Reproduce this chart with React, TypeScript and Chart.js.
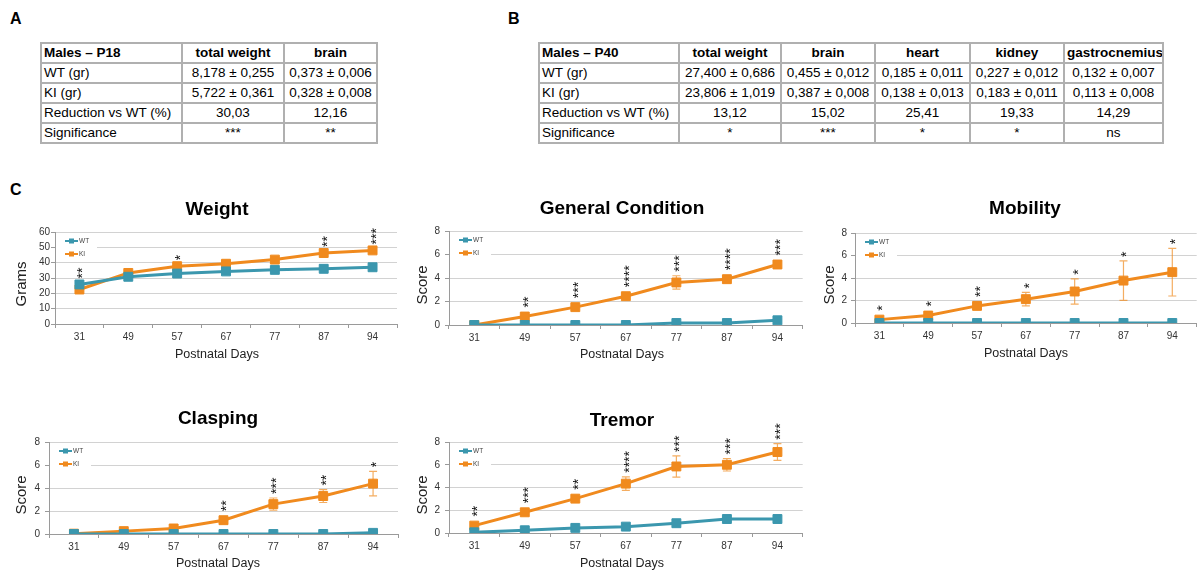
import React, { useEffect, useRef } from 'react';
import { Chart, registerables } from 'chart.js';
Chart.register(...registerables);

// ---------- DATA ----------
const days = ['31', '49', '57', '67', '77', '87', '94'];

const weightWT = [25.8, 30.8, 32.9, 34.3, 35.3, 36, 37];
const weightKI = [22.5, 33.3, 37.7, 39.3, 42, 46.3, 48];
const weightKIErr = [0.8, 0.8, 1, 1, 1.5, 1.2, 1];
const weightStars = ['**', '', '*', '', '', '**', '***'];

const gcWT = [0, 0, 0, 0, 0.17, 0.17, 0.4];
const gcKI = [0, 0.72, 1.52, 2.45, 3.62, 3.9, 5.15];
const gcKIErr = [0, 0.1, 0.15, 0.2, 0.57, 0.2, 0.25];
const gcStars = ['', '**', '***', '****', '***', '****', '***'];

const mobWT = [0, 0, 0, 0, 0, 0, 0];
const mobKI = [0.3, 0.66, 1.52, 2.12, 2.8, 3.77, 4.52];
const mobKIErr = [0.1, 0.15, 0.3, 0.6, 1.13, 1.75, 2.12];
const mobStars = ['*', '*', '**', '*', '*', '*', '*'];

const claWT = [0, 0, 0, 0, 0, 0, 0.1];
const claKI = [0.03, 0.25, 0.48, 1.2, 2.6, 3.3, 4.38];
const claKIErr = [0, 0.05, 0.1, 0.22, 0.53, 0.56, 1.07];
const claStars = ['', '', '', '**', '***', '**', '*'];

const treWT = [0.06, 0.24, 0.45, 0.56, 0.86, 1.23, 1.23];
const treKI = [0.65, 1.82, 3.02, 4.34, 5.85, 6.0, 7.12];
const treKIErr = [0.15, 0.2, 0.3, 0.6, 0.93, 0.55, 0.73];
const treStars = ['**', '***', '**', '****', '***', '***', '***'];

const tableAHeader = ['Males – P18', 'total weight', 'brain'];
const tableARows = [
  ['WT (gr)', '8,178 ± 0,255', '0,373 ± 0,006'],
  ['KI (gr)', '5,722 ± 0,361', '0,328 ± 0,008'],
  ['Reduction vs WT (%)', '30,03', '12,16'],
  ['Significance', '***', '**'],
];
const tableBHeader = ['Males – P40', 'total weight', 'brain', 'heart', 'kidney', 'gastrocnemius'];
const tableBRows = [
  ['WT (gr)', '27,400 ± 0,686', '0,455 ± 0,012', '0,185 ± 0,011', '0,227 ± 0,012', '0,132 ± 0,007'],
  ['KI (gr)', '23,806 ± 1,019', '0,387 ± 0,008', '0,138 ± 0,013', '0,183 ± 0,011', '0,113 ± 0,008'],
  ['Reduction vs WT (%)', '13,12', '15,02', '25,41', '19,33', '14,29'],
  ['Significance', '*', '***', '*', '*', 'ns'],
];

// ---------- STYLE ----------
const FONT = '"Liberation Sans", Arial, sans-serif';
const WT_COLOR = '#3B97AE';
const KI_COLOR = '#F08A1E';
const ERR_COLOR = 'rgba(240,138,30,0.7)';

type Panel = {
  title: string;
  yTitle: string;
  wt: number[];
  ki: number[];
  kiErr: number[];
  stars: string[];
  yMax: number;
  yStep: number;
  box: { x: number; y: number; w: number; h: number };
  area: { l: number; t: number; r: number; b: number };
  titlePos: [number, number];
  yTitlePos: [number, number];
  xTitlePos: [number, number];
  yTickPad: number;
  starGap: number;
};

const panels: Panel[] = [
  {
    title: 'Weight', yTitle: 'Grams', wt: weightWT, ki: weightKI, kiErr: weightKIErr, stars: weightStars,
    yMax: 60, yStep: 10,
    box: { x: 0, y: 185, w: 410, h: 190 }, area: { l: 55, t: 232, r: 397, b: 324 },
    titlePos: [217, 210], yTitlePos: [22, 284], xTitlePos: [217, 355], yTickPad: 1, starGap: 6,
  },
  {
    title: 'General Condition', yTitle: 'Score', wt: gcWT, ki: gcKI, kiErr: gcKIErr, stars: gcStars,
    yMax: 8, yStep: 2,
    box: { x: 400, y: 185, w: 410, h: 190 }, area: { l: 449, t: 231, r: 804, b: 325 },
    titlePos: [622, 209], yTitlePos: [423, 285], xTitlePos: [622, 355], yTickPad: 5, starGap: 9,
  },
  {
    title: 'Mobility', yTitle: 'Score', wt: mobWT, ki: mobKI, kiErr: mobKIErr, stars: mobStars,
    yMax: 8, yStep: 2,
    box: { x: 805, y: 185, w: 399, h: 190 }, area: { l: 855, t: 233, r: 1203, b: 323 },
    titlePos: [1025, 209], yTitlePos: [830, 285], xTitlePos: [1026, 354], yTickPad: 4, starGap: 9,
  },
  {
    title: 'Clasping', yTitle: 'Score', wt: claWT, ki: claKI, kiErr: claKIErr, stars: claStars,
    yMax: 8, yStep: 2,
    box: { x: 0, y: 395, w: 410, h: 177 }, area: { l: 49, t: 442, r: 398, b: 534 },
    titlePos: [218, 419], yTitlePos: [22, 495], xTitlePos: [218, 564], yTickPad: 5, starGap: 9,
  },
  {
    title: 'Tremor', yTitle: 'Score', wt: treWT, ki: treKI, kiErr: treKIErr, stars: treStars,
    yMax: 8, yStep: 2,
    box: { x: 400, y: 395, w: 410, h: 177 }, area: { l: 449, t: 442, r: 803, b: 533 },
    titlePos: [622, 421], yTitlePos: [423, 495], xTitlePos: [622, 564], yTickPad: 5, starGap: 9,
  },
];

function ChartPanel({ p }: { p: Panel }) {
  const ref = useRef<HTMLCanvasElement>(null);
  useEffect(() => {
    const ox = p.box.x;
    const oy = p.box.y;
    const L = p.area.l - ox;
    const T = p.area.t - oy;
    const R = p.area.r - ox;
    const B = p.area.b - oy;

    const extras = {
      id: 'extras',
      beforeDatasetsDraw(chart: any) {
        const ctx = chart.ctx;
        const xs = chart.scales.x;
        const ys = chart.scales.y;
        ctx.save();
        ctx.strokeStyle = ERR_COLOR;
        ctx.lineWidth = 1.2;
        p.ki.forEach((v, i) => {
          const e = p.kiErr[i];
          if (!e) return;
          const x = xs.getPixelForValue(i);
          const y1 = ys.getPixelForValue(v + e);
          const y2 = ys.getPixelForValue(Math.max(0, v - e));
          ctx.beginPath();
          ctx.moveTo(x, y1);
          ctx.lineTo(x, y2);
          ctx.moveTo(x - 4, y1);
          ctx.lineTo(x + 4, y1);
          ctx.moveTo(x - 4, y2);
          ctx.lineTo(x + 4, y2);
          ctx.stroke();
        });
        ctx.restore();
      },
      afterDraw(chart: any) {
        const ctx = chart.ctx;
        const xs = chart.scales.x;
        const ys = chart.scales.y;
        const ca = chart.chartArea;
        ctx.save();
        // legend
        ctx.fillStyle = '#ffffff';
        ctx.fillRect(ca.left + 1, ca.top + 3, 41, 25);
        const items: [string, string, number][] = [
          ['WT', WT_COLOR, ca.top + 9],
          ['KI', KI_COLOR, ca.top + 22],
        ];
        items.forEach(([lab, col, y]) => {
          ctx.strokeStyle = col;
          ctx.lineWidth = 2;
          ctx.beginPath();
          ctx.moveTo(ca.left + 10, y);
          ctx.lineTo(ca.left + 23, y);
          ctx.stroke();
          ctx.fillStyle = col;
          ctx.fillRect(ca.left + 14, y - 2.5, 5, 5);
          ctx.fillStyle = '#444';
          ctx.font = `6.5px ${FONT}`;
          ctx.textAlign = 'left';
          ctx.textBaseline = 'middle';
          ctx.fillText(lab, ca.left + 24, y + 0.5);
        });
        // significance stars
        const fs = 14;
        ctx.fillStyle = '#111';
        ctx.font = `${fs}px ${FONT}`;
        ctx.textAlign = 'left';
        ctx.textBaseline = 'alphabetic';
        p.stars.forEach((s, i) => {
          if (!s) return;
          const x = xs.getPixelForValue(i);
          const yPoint = Math.min(ys.getPixelForValue(p.ki[i]), ys.getPixelForValue(p.wt[i]));
          const yErr = ys.getPixelForValue(p.ki[i] + (p.kiErr[i] || 0));
          const bottom = Math.min(yPoint - p.starGap, yErr - 4);
          ctx.save();
          ctx.translate(x, bottom);
          ctx.rotate(-Math.PI / 2);
          ctx.fillText(s, 0, fs * 0.57);
          ctx.restore();
        });
        // titles
        ctx.fillStyle = '#000';
        ctx.font = `bold 19px ${FONT}`;
        ctx.textAlign = 'center';
        ctx.textBaseline = 'middle';
        ctx.fillText(p.title, p.titlePos[0] - ox, p.titlePos[1] - oy);
        ctx.fillStyle = '#222';
        ctx.font = `12.5px ${FONT}`;
        ctx.fillText('Postnatal Days', p.xTitlePos[0] - ox, p.xTitlePos[1] - oy);
        ctx.save();
        ctx.translate(p.yTitlePos[0] - ox, p.yTitlePos[1] - oy);
        ctx.rotate(-Math.PI / 2);
        ctx.font = `15px ${FONT}`;
        ctx.fillText(p.yTitle, 0, 0);
        ctx.restore();
        ctx.restore();
      },
    };

    const ds = (label: string, data: number[], color: string) => ({
      label,
      data,
      borderColor: color,
      backgroundColor: color,
      borderWidth: 3,
      pointStyle: 'rect' as const,
      pointRadius: 6.3,
      pointBorderWidth: 1,
      pointBackgroundColor: color,
      pointBorderColor: color,
      tension: 0,
    });

    const chart = new Chart(ref.current!, {
      type: 'line',
      data: {
        labels: days,
        datasets: [ds('WT', p.wt, WT_COLOR), ds('KI', p.ki, KI_COLOR)],
      },
      options: {
        responsive: false,
        animation: false,
        layout: { padding: { left: 0, top: T, right: p.box.w - R, bottom: 0 } },
        plugins: {
          legend: { display: false },
          title: { display: false },
          tooltip: { enabled: false },
        },
        scales: {
          x: {
            type: 'category',
            offset: true,
            grid: { display: true, drawOnChartArea: false, drawTicks: true, tickLength: 4, color: '#9a9a9a', offset: true },
            border: { display: true, color: '#9a9a9a' },
            ticks: { font: { family: FONT, size: 10 }, color: '#333', padding: 3, maxRotation: 0, autoSkip: false },
            afterFit: (s: any) => { s.height = p.box.h - B; },
          },
          y: {
            min: 0,
            max: p.yMax,
            ticks: { stepSize: p.yStep, font: { family: FONT, size: 10 }, color: '#333', padding: p.yTickPad },
            grid: { color: '#d2d2d2', tickColor: '#9a9a9a', tickLength: 4 },
            border: { display: true, color: '#9a9a9a' },
            afterFit: (s: any) => { s.width = L; },
          },
        },
      },
      plugins: [extras],
    } as any);
    return () => chart.destroy();
  }, [p]);
  return (
    <canvas
      ref={ref}
      width={p.box.w}
      height={p.box.h}
      style={{ position: 'absolute', left: p.box.x, top: p.box.y, width: p.box.w, height: p.box.h }}
    />
  );
}

function DataTable({ header, rows, widths, left, top }: { header: string[]; rows: string[][]; widths: number[]; left: number; top: number }) {
  const total = widths.reduce((a, b) => a + b, 0);
  const cell = (i: number, bold: boolean): React.CSSProperties => ({
    border: '2px solid #b0b0b0',
    padding: '0 2px',
    height: 16,
    lineHeight: '16px',
    fontWeight: bold ? 'bold' : 'normal',
    textAlign: i === 0 ? 'left' : 'center',
    whiteSpace: 'nowrap',
    overflow: 'hidden',
  });
  return (
    <table
      style={{
        position: 'absolute', left, top, width: total, borderCollapse: 'collapse', tableLayout: 'fixed',
        fontFamily: FONT, fontSize: '13.5px', color: '#000',
      }}
    >
      <colgroup>
        {widths.map((w, i) => <col key={i} style={{ width: w }} />)}
      </colgroup>
      <tbody>
        <tr style={{ height: 20 }}>
          {header.map((h, i) => <td key={i} style={cell(i, true)}>{h}</td>)}
        </tr>
        {rows.map((r, ri) => (
          <tr key={ri} style={{ height: 20 }}>
            {r.map((c, i) => <td key={i} style={cell(i, false)}>{c}</td>)}
          </tr>
        ))}
      </tbody>
    </table>
  );
}

const letter = (t: string, left: number, top: number) => (
  <div style={{ position: 'absolute', left, top, fontFamily: FONT, fontWeight: 'bold', fontSize: 16, lineHeight: '16px' }}>{t}</div>
);

export default function App() {
  return (
    <div style={{ position: 'absolute', left: 0, top: 0, width: 1204, height: 572, background: '#fff', overflow: 'hidden' }}>
      {letter('A', 10, 11)}
      {letter('B', 508, 11)}
      {letter('C', 10, 182)}
      <DataTable header={tableAHeader} rows={tableARows} widths={[141, 102, 93]} left={40} top={42} />
      <DataTable header={tableBHeader} rows={tableBRows} widths={[140, 102, 94, 95, 94, 99]} left={538} top={42} />
      {panels.map((p, i) => <ChartPanel key={i} p={p} />)}
    </div>
  );
}
